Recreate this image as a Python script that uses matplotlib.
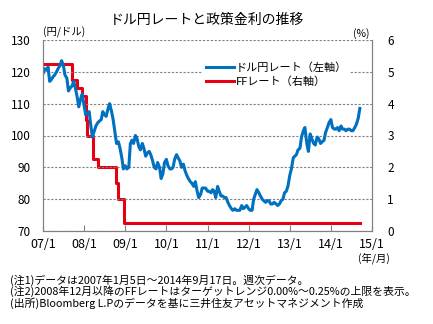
import matplotlib.pyplot as plt
import pandas as pd

plt.rcParams['font.family'] = ['Noto Sans CJK JP', 'DejaVu Sans']

# ドル円レート（半月ごとに読み取り）
usd_dates = pd.date_range('2007-01-01', '2014-09-15', freq='SMS')
usd_2007 = [119.5, 121.0, 120.5, 121.5, 117.0, 117.5, 118.5, 119.0, 120.0, 121.0, 122.0, 123.5,
            122.0, 119.0, 118.0, 114.0, 115.0, 115.5, 117.0, 115.0, 112.0, 109.0, 111.5, 113.0]
usd_2008 = [109.5, 106.5, 107.0, 107.5, 103.0, 99.5, 101.5, 103.0, 104.0, 104.5, 105.0, 107.5,
            106.5, 106.0, 108.5, 110.0, 107.5, 105.0, 101.0, 97.5, 98.0, 96.0, 93.0, 89.5]
usd_2009 = [90.5, 89.5, 90.0, 97.5, 98.5, 97.5, 100.0, 99.0, 96.5, 95.5, 97.5, 96.0,
            93.5, 94.5, 95.0, 94.0, 92.0, 90.0, 89.5, 91.5, 90.0, 86.5, 88.0, 91.5]
usd_2010 = [92.5, 90.5, 89.5, 89.5, 90.0, 92.5, 94.0, 93.0, 92.0, 90.0, 91.0, 89.0,
            87.5, 86.5, 85.5, 85.0, 84.0, 85.5, 82.5, 80.5, 81.5, 83.5, 83.5, 83.5]
usd_2011 = [82.5, 82.5, 82.0, 83.0, 82.5, 80.5, 84.0, 82.5, 81.0, 81.0, 80.5, 80.5,
            79.0, 78.0, 77.0, 76.5, 77.0, 76.5, 76.5, 76.5, 78.0, 77.0, 77.5, 78.0]
usd_2012 = [77.0, 76.5, 76.5, 80.0, 81.5, 83.0, 82.0, 81.0, 80.0, 79.5, 79.0, 79.5,
            79.5, 78.5, 78.5, 79.0, 78.5, 78.0, 78.5, 79.5, 80.0, 82.0, 82.5, 84.0]
usd_2013 = [87.5, 89.5, 93.0, 93.5, 94.0, 95.5, 96.0, 99.5, 101.5, 102.5, 97.5, 95.0,
            100.5, 99.0, 97.5, 97.0, 99.5, 99.0, 97.5, 98.0, 98.5, 101.0, 102.5, 104.0]
usd_2014 = [105.0, 102.5, 102.0, 102.0, 102.5, 101.5, 103.0, 102.0, 102.0, 101.5, 102.0, 102.0,
            101.5, 101.5, 102.5, 103.5, 105.5, 108.5]
usd_jpy = usd_2007 + usd_2008 + usd_2009 + usd_2010 + usd_2011 + usd_2012 + usd_2013 + usd_2014

# FFレート（変更日）
ff_dates = pd.to_datetime(['2007-01-01', '2007-09-18', '2007-10-31', '2007-12-11', '2008-01-22',
                           '2008-01-30', '2008-03-18', '2008-04-30', '2008-10-08', '2008-10-29',
                           '2008-12-16', '2014-09-17'])
ff_rates = [5.25, 4.75, 4.50, 4.25, 3.50, 3.00, 2.25, 2.00, 1.50, 1.00, 0.25, 0.25]

xtick_dates = pd.to_datetime(['2007-01-01', '2008-01-01', '2009-01-01', '2010-01-01', '2011-01-01',
                              '2012-01-01', '2013-01-01', '2014-01-01', '2015-01-01'])
xtick_labels = ['07/1', '08/1', '09/1', '10/1', '11/1', '12/1', '13/1', '14/1', '15/1']

blue = '#0070c0'
red = '#e60012'
gray = '#808080'

fig = plt.figure(figsize=(4.33, 3.24), dpi=100)
ax1 = fig.add_axes([43 / 433, 1 - 231 / 324, 329 / 433, 191 / 324])
ax2 = ax1.twinx()

l2, = ax2.plot(ff_dates, ff_rates, color=red, lw=2.2, drawstyle='steps-post', label='FFレート（右軸）')
l1, = ax1.plot(usd_dates, usd_jpy, color=blue, lw=2.2, label='ドル円レート（左軸）')
ax1.set_zorder(ax2.get_zorder() + 1)
ax1.patch.set_visible(False)

ax1.set_ylim(70, 130)
ax1.set_yticks(range(70, 131, 10))
ax2.set_ylim(0, 6)
ax2.set_yticks(range(0, 7))
ax1.set_xlim(xtick_dates[0], xtick_dates[-1])
ax1.set_xticks(xtick_dates)
ax1.set_xticklabels(xtick_labels)

ax1.tick_params(axis='x', direction='in', length=4, color=gray, pad=5, labelsize=9)
ax1.tick_params(axis='y', length=0, pad=9, labelsize=8.5)
ax2.tick_params(axis='y', length=0, pad=11, labelsize=8.5)

ax1.yaxis.grid(True, linestyle=(0, (2, 1.5)), color=gray, lw=0.8)
for ax in (ax1, ax2):
    ax.spines['top'].set_visible(False)
    for s in ('left', 'right', 'bottom'):
        ax.spines[s].set_color(gray)
        ax.spines[s].set_linewidth(0.8)

ax1.legend(handles=[l1, l2], loc='upper left', bbox_to_anchor=(0.468, 0.93), fontsize=8,
           frameon=True, fancybox=False, edgecolor='none', facecolor='white', framealpha=1,
           handlelength=2.5, handletextpad=0.2, borderpad=0.3, labelspacing=0.3)

fig.text(207 / 433, 1 - 20 / 324, 'ドル円レートと政策金利の推移', ha='center', va='center', fontsize=10)
fig.text(43 / 433, 1 - 32 / 324, '(円/ドル)', ha='left', va='center', fontsize=7.5)
fig.text(370 / 433, 1 - 34 / 324, '(%)', ha='right', va='center', fontsize=7.5)
fig.text(374 / 433, 1 - 258 / 324, '(年/月)', ha='center', va='center', fontsize=7.5)

notes = ['(注1)データは2007年1月5日～2014年9月17日。週次データ。',
         '(注2)2008年12月以降のFFレートはターゲットレンジ0.00%～0.25%の上限を表示。',
         '(出所)Bloomberg L.Pのデータを基に三井住友アセットマネジメント作成']
for i, note in enumerate(notes):
    fig.text(10 / 433, 1 - (280 + 11.5 * i) / 324, note, ha='left', va='center', fontsize=7.8)

fig.savefig('out.png', dpi=100)
